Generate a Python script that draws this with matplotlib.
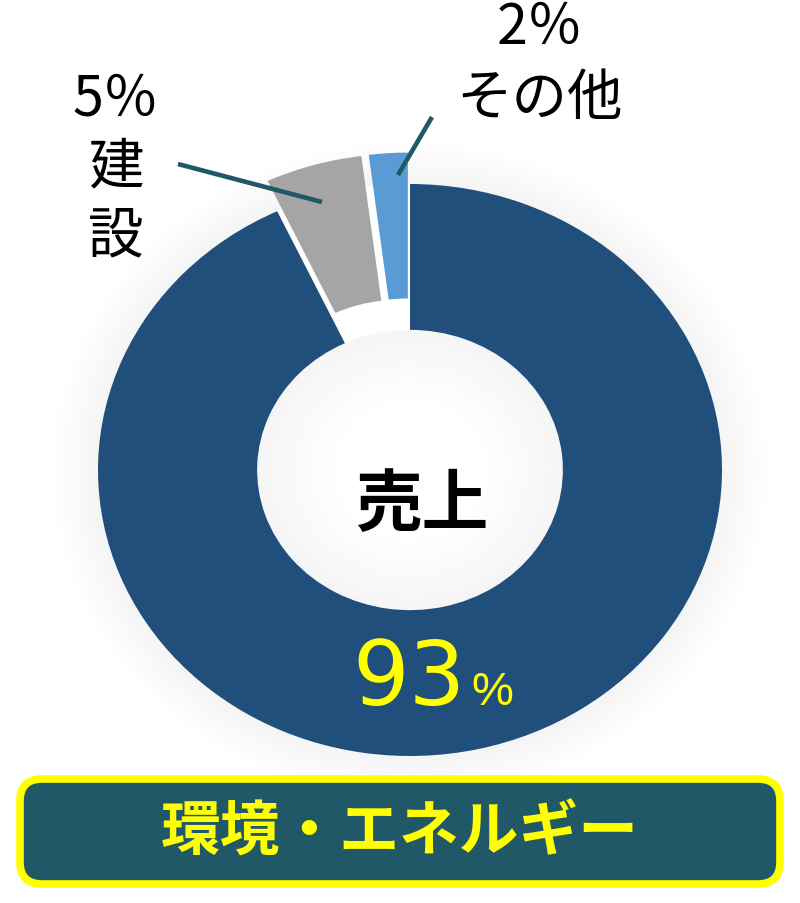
import matplotlib
matplotlib.use("Agg")
import matplotlib.pyplot as plt
from matplotlib.patches import Wedge, FancyBboxPatch

# ---- data ----
categories = ["売上", "建設", "その他"]
values = [93, 5, 2]
colors = ["#214F7B", "#A5A5A5", "#5B9BD5"]
explode = [0, 0.11, 0.11]
title = "環境・エネルギー"

CJK = ["Noto Sans CJK JP", "DejaVu Sans"]
plt.rcParams["font.family"] = CJK

W, H = 800, 904
fig = plt.figure(figsize=(W / 100, H / 100), dpi=100)
fig.patch.set_facecolor("white")

# donut geometry (pixels): slightly squashed ellipse
cx, cy, rx, ry, lim = 410, 471, 312, 286, 1.3
ax = fig.add_axes([(cx - lim * rx) / W, (H - cy - lim * ry) / H,
                   2 * lim * rx / W, 2 * lim * ry / H])

# soft shadow around the ring and inside the hole
hole = 0.49
n = 12
for k in range(n):
    ax.add_patch(Wedge((0, 0), 1.0 + 0.012 * (k + 1), 0, 360, width=0.012,
                       facecolor="0.45", edgecolor="none",
                       alpha=0.07 * (1 - k / n), zorder=0))
m = 18
for k in range(m):
    ax.add_patch(Wedge((0, 0), hole - 0.014 * k, 0, 360, width=0.014,
                       facecolor="0.5", edgecolor="none",
                       alpha=0.075 * (1 - k / m), zorder=0))

wedges, _ = ax.pie(values, colors=colors, startangle=90, counterclock=False,
                   explode=explode,
                   wedgeprops=dict(width=1 - hole, edgecolor="none"))
ax.set_aspect("auto")
ax.set_xlim(-lim, lim)
ax.set_ylim(-lim, lim)
ax.axis("off")

# overlay in pixel coordinates for labels and the title box
ov = fig.add_axes([0, 0, 1, 1])
ov.set_xlim(0, W)
ov.set_ylim(H, 0)
ov.axis("off")
ov.patch.set_alpha(0)

line_col = "#1F5867"
# 建設 label + leader
ov.text(116, 168, f"{values[1]}％\n" + "\n".join(categories[1]),
        ha="center", va="center", fontsize=40, color="black",
        linespacing=1.25, multialignment="center", family=CJK)
ov.plot([178, 322], [165, 203], color=line_col, lw=3.3, solid_capstyle="butt")
# その他 label + leader
ov.text(540, 64, f"{values[2]}％\n{categories[2]}",
        ha="center", va="center", fontsize=40, color="black",
        linespacing=1.3, multialignment="center", family=CJK)
ov.plot([432, 398], [118, 176], color=line_col, lw=3.3, solid_capstyle="butt")

# center label
ov.text(423, 505, categories[0], ha="center", va="center", fontsize=48,
        fontweight="bold", color="black", family=CJK)
# 93%
ov.text(466, 705, f"{values[0]}", ha="right", va="baseline", fontsize=64,
        color="#FFFF00", family=["DejaVu Sans"])
ov.text(471, 705, "%", ha="left", va="baseline", fontsize=34,
        color="#FFFF00", family=["Liberation Sans", "DejaVu Sans"])

# title box
box = FancyBboxPatch((20, 780), 760, 105,
                     boxstyle="round,pad=0,rounding_size=22",
                     facecolor="#215868", edgecolor="#FFFF00", linewidth=5.5)
ov.add_patch(box)
ov.text(400, 834, title, ha="center", va="center", fontsize=43,
        fontweight="bold", color="#FFFF00", family=CJK)

fig.savefig("out.png", dpi=100, facecolor="white")
